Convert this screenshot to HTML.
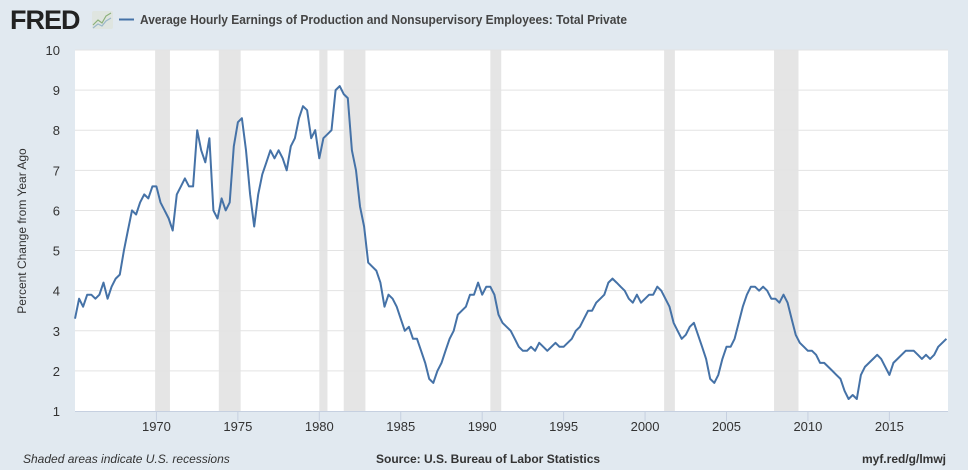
<!DOCTYPE html>
<html><head><meta charset="utf-8"><style>
html,body{margin:0;padding:0;background:#e1e9f0;}
svg{display:block;font-family:"Liberation Sans",sans-serif;}
</style></head><body>
<svg id="chart" width="968" height="470" viewBox="0 0 968 470" xmlns="http://www.w3.org/2000/svg">
<rect width="968" height="470" fill="#e1e9f0"/>
<text x="10" y="29" font-size="27" font-weight="bold" fill="#222" letter-spacing="-1">FRED</text>
<rect x="92" y="11" width="21" height="18" rx="2" fill="#dfe5e0"/>
<polyline points="93,25 98,20 102,23 106,16 111,13" fill="none" stroke="#8bb07a" stroke-width="1.2"/>
<polyline points="93,28 98,24 102,26 106,21 111,18" fill="none" stroke="#9bb8c9" stroke-width="1.2"/>
<line x1="119" y1="19.5" x2="134" y2="19.5" stroke="#4572a7" stroke-width="2"/>
<text x="140" y="24" font-size="12.5" font-weight="bold" fill="#444" textLength="487" lengthAdjust="spacingAndGlyphs">Average Hourly Earnings of Production and Nonsupervisory Employees: Total Private</text>
<rect x="75" y="50" width="873" height="361" fill="#fff"/>
<g id="rec"></g><g id="grid"></g><g id="ticks"></g>
<path id="line" fill="none" stroke="#4572a7" stroke-width="2" stroke-linejoin="round"/>
<text transform="translate(26,231) rotate(-90)" text-anchor="middle" font-size="12" fill="#333">Percent Change from Year Ago</text>
<text x="23" y="463" font-size="12" font-style="italic" fill="#333">Shaded areas indicate U.S. recessions</text>
<text x="376" y="463" font-size="12" font-weight="bold" fill="#333">Source: U.S. Bureau of Labor Statistics</text>
<text x="946" y="463" text-anchor="end" font-size="12" font-weight="bold" fill="#333">myf.red/g/lmwj</text>
</svg>
<script>
const startYear = 1965;
const stepYears = 0.25;
const values = [
3.3,3.8,3.6,3.9, 3.9,3.8,3.9,4.2, 3.8,4.1,4.3,4.4, 5.0,5.5,6.0,5.9, 6.2,6.4,6.3,6.6,
6.6,6.2,6.0,5.8, 5.5,6.4,6.6,6.8, 6.6,6.6,8.0,7.5, 7.2,7.8,6.0,5.8, 6.3,6.0,6.2,7.6,
8.2,8.3,7.5,6.4, 5.6,6.4,6.9,7.2, 7.5,7.3,7.5,7.3, 7.0,7.6,7.8,8.3, 8.6,8.5,7.8,8.0,
7.3,7.8,7.9,8.0, 9.0,9.1,8.9,8.8, 7.5,7.0,6.1,5.6, 4.7,4.6,4.5,4.2, 3.6,3.9,3.8,3.6,
3.3,3.0,3.1,2.8, 2.8,2.5,2.2,1.8, 1.7,2.0,2.2,2.5, 2.8,3.0,3.4,3.5, 3.6,3.9,3.9,4.2,
3.9,4.1,4.1,3.9, 3.4,3.2,3.1,3.0, 2.8,2.6,2.5,2.5, 2.6,2.5,2.7,2.6, 2.5,2.6,2.7,2.6,
2.6,2.7,2.8,3.0, 3.1,3.3,3.5,3.5, 3.7,3.8,3.9,4.2, 4.3,4.2,4.1,4.0, 3.8,3.7,3.9,3.7,
3.8,3.9,3.9,4.1, 4.0,3.8,3.6,3.2, 3.0,2.8,2.9,3.1, 3.2,2.9,2.6,2.3, 1.8,1.7,1.9,2.3,
2.6,2.6,2.8,3.2, 3.6,3.9,4.1,4.1, 4.0,4.1,4.0,3.8, 3.8,3.7,3.9,3.7, 3.3,2.9,2.7,2.6,
2.5,2.5,2.4,2.2, 2.2,2.1,2.0,1.9, 1.8,1.5,1.3,1.4, 1.3,1.9,2.1,2.2, 2.3,2.4,2.3,2.1,
1.9,2.2,2.3,2.4, 2.5,2.5,2.5,2.4, 2.3,2.4,2.3,2.4, 2.6,2.7,2.8
];
const recStarts = [1969.92,1973.83,1980.0,1981.5,1990.5,2001.17,2007.92];
const recEnds   = [1970.83,1975.17,1980.5,1982.83,1991.17,2001.83,2009.42];
const yTicks = [1,2,3,4,5,6,7,8,9,10];
const xTicks = [1970,1975,1980,1985,1990,1995,2000,2005,2010,2015];

const X0=75,X1=948,Y0=411,Y1=50,T0=1965.0,T1=2018.6,V0=1,V1=10;
const xs = t => X0 + (t-T0)/(T1-T0)*(X1-X0);
const ys = v => Y0 - (v-V0)/(V1-V0)*(Y0-Y1);
const NS="http://www.w3.org/2000/svg";
function mk(tag, parent, attrs){const e=document.createElementNS(NS,tag);for(const k in attrs)e.setAttribute(k,attrs[k]);parent.appendChild(e);return e;}

const rec=document.getElementById('rec');
recStarts.forEach((s,i)=>{
  const r=mk('rect',rec,{x:xs(s),y:Y1,width:xs(recEnds[i])-xs(s),height:Y0-Y1,fill:'#e5e5e5'});
  
  
});
const grid=document.getElementById('grid');
yTicks.forEach(v=>{
  if(v>V0){const l=mk('line',grid,{x1:X0,x2:X1,y1:ys(v),y2:ys(v),stroke:'#e3e3e3','stroke-width':1});
  
  }
  const t=mk('text',grid,{x:60,y:ys(v)+5,'text-anchor':'end','font-size':13,fill:'#333'});
  
  
  t.textContent=v;
});
const ticks=document.getElementById('ticks');
const ax=mk('line',ticks,{x1:X0,x2:X1,y1:Y0+0.5,y2:Y0+0.5,stroke:'#c6d0e0','stroke-width':1});


xTicks.forEach(yr=>{
  const x=xs(yr);
  const l=mk('line',ticks,{x1:x,x2:x,y1:Y0,y2:Y0+10,stroke:'#c6d0e0','stroke-width':1});
  
  
  const t=mk('text',ticks,{x:x,y:Y0+20,'text-anchor':'middle','font-size':13,fill:'#333'});
  
  
  t.textContent=yr;
});
let d='';
values.forEach((v,i)=>{d+=(i?'L':'M')+xs(startYear+i*stepYears).toFixed(1)+','+ys(v).toFixed(1);});
document.getElementById('line').setAttribute('d',d);
</script>
</body></html>
